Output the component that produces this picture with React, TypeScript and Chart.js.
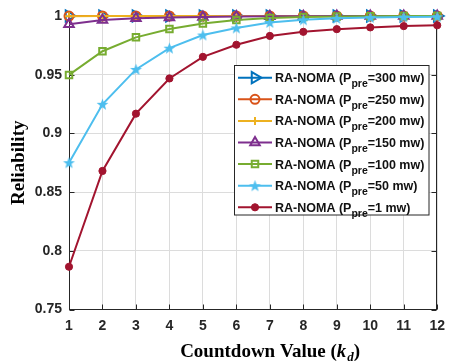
import React, { useEffect, useRef } from 'react';
import { Chart, registerables } from 'chart.js';
import { drawPoint } from 'chart.js/helpers';

Chart.register(...registerables);

// Countdown values on the horizontal axis
const countdown = ['1', '2', '3', '4', '5', '6', '7', '8', '9', '10', '11', '12'];

// Reliability for each pre-transmission power
const rel300 = [1, 1, 1, 1, 1, 1, 1, 1, 1, 1, 1, 1];
const rel250 = [0.9999, 1, 1, 1, 1, 1, 1, 1, 1, 1, 1, 1];
const rel200 = [0.9998, 0.9999, 0.9999, 1, 1, 1, 1, 1, 1, 1, 1, 1];
const rel150 = [0.993, 0.9966, 0.9981, 0.9988, 0.9992, 0.9995, 0.9997, 0.9998, 0.9999, 0.9999, 1, 1];
const rel100 = [0.9498, 0.970, 0.9818, 0.989, 0.9937, 0.9966, 0.9984, 0.9992, 0.9996, 0.9998, 0.9999, 0.9999];
const rel50 = [0.875, 0.9248, 0.9545, 0.9726, 0.9838, 0.9898, 0.9945, 0.9968, 0.998, 0.9987, 0.9991, 0.9994];
const rel1 = [0.7864, 0.868, 0.9168, 0.9468, 0.9652, 0.9755, 0.983, 0.9865, 0.9888, 0.9903, 0.9914, 0.9921];

const yTicks = [0.75, 0.8, 0.85, 0.9, 0.95, 1];
const powers = ['300', '250', '200', '150', '100', '50', '1'];

const AX = '#262626';

function makePentagram(color: string, r: number): HTMLCanvasElement {
  const size = Math.ceil(r * 2 + 2);
  const c = document.createElement('canvas');
  c.width = size;
  c.height = size;
  const g = c.getContext('2d')!;
  const cx = size / 2;
  const cy = size / 2 + 0.5;
  const inner = r * 0.42;
  g.beginPath();
  for (let i = 0; i < 10; i++) {
    const rad = i % 2 === 0 ? r : inner;
    const a = -Math.PI / 2 + (i * Math.PI) / 5;
    const px = cx + rad * Math.cos(a);
    const py = cy + rad * Math.sin(a);
    if (i === 0) g.moveTo(px, py);
    else g.lineTo(px, py);
  }
  g.closePath();
  g.fillStyle = color;
  g.fill();
  return c;
}

const seriesData = [rel300, rel250, rel200, rel150, rel100, rel50, rel1];

const seriesLook = [
  { color: '#0072BD', pointStyle: 'triangle' as any, rotation: 90, radius: 6.5, fill: 'rgba(0,0,0,0)', bw: 2 },
  { color: '#D95319', pointStyle: 'circle' as any, rotation: 0, radius: 4.5, fill: 'rgba(0,0,0,0)', bw: 2 },
  { color: '#EDB120', pointStyle: 'cross' as any, rotation: 0, radius: 4, fill: 'rgba(0,0,0,0)', bw: 2 },
  { color: '#7E2F8E', pointStyle: 'triangle' as any, rotation: 0, radius: 5.5, fill: 'rgba(0,0,0,0)', bw: 2 },
  { color: '#77AC30', pointStyle: 'rect' as any, rotation: 0, radius: 4.6, fill: 'rgba(0,0,0,0)', bw: 2 },
  { color: '#4DBEEE', pointStyle: null as any, rotation: 0, radius: 6, fill: '#4DBEEE', bw: 0 },
  { color: '#A2142F', pointStyle: 'circle' as any, rotation: 0, radius: 3.6, fill: '#A2142F', bw: 1 },
];

const framePlugin = {
  id: 'frame',
  beforeDatasetsDraw(chart: any) {
    const { ctx, chartArea: a, scales } = chart;
    ctx.save();
    ctx.strokeStyle = AX;
    ctx.lineWidth = 1;
    const L = Math.round(a.left) + 0.5;
    const R = Math.round(a.right) - 0.5;
    const T = Math.round(a.top) + 0.5;
    const B = Math.round(a.bottom) - 0.5;
    ctx.strokeRect(L, T, R - L, B - T);
    const tl = 5;
    ctx.beginPath();
    countdown.forEach((_, i) => {
      const x = Math.round(scales.x.getPixelForValue(i)) + 0.5;
      ctx.moveTo(x, B);
      ctx.lineTo(x, B - tl);
      ctx.moveTo(x, T);
      ctx.lineTo(x, T + tl);
    });
    yTicks.forEach((v) => {
      const y = Math.round(scales.y.getPixelForValue(v)) + 0.5;
      ctx.moveTo(L, y);
      ctx.lineTo(L + tl, y);
      ctx.moveTo(R, y);
      ctx.lineTo(R - tl, y);
    });
    ctx.stroke();
    ctx.restore();
  },
  afterDraw(chart: any) {
    const { ctx, chartArea: a } = chart;
    ctx.save();
    ctx.fillStyle = '#000';
    // y-axis title
    ctx.save();
    ctx.translate(24, (a.top + a.bottom) / 2);
    ctx.rotate(-Math.PI / 2);
    ctx.font = 'bold 19px "Liberation Serif"';
    ctx.textAlign = 'center';
    ctx.textBaseline = 'alphabetic';
    ctx.fillText('Reliability', 0, 0);
    ctx.restore();

    // x-axis title with italic k and subscript d
    const base = 356.5;
    const fMain = 'bold 19px "Liberation Serif"';
    const fIt = 'italic bold 19px "Liberation Serif"';
    const fSub = 'italic bold 13px "Liberation Serif"';
    const parts = [
      { t: 'Countdown Value (', f: fMain, dy: 0 },
      { t: 'k', f: fIt, dy: 0 },
      { t: 'd', f: fSub, dy: 4 },
      { t: ')', f: fMain, dy: 0 },
    ];
    let total = 0;
    parts.forEach((p) => {
      ctx.font = p.f;
      total += ctx.measureText(p.t).width + (p.t === 'k' ? 1 : 0);
    });
    let x = (a.left + a.right) / 2 + 17 - total / 2;
    ctx.textAlign = 'left';
    parts.forEach((p) => {
      ctx.font = p.f;
      ctx.fillText(p.t, x, base + p.dy);
      x += ctx.measureText(p.t).width + (p.t === 'k' ? 1 : 0);
    });

    // legend
    const lx = 234.5;
    const ly = 65.5;
    const lw = 194.5;
    const lh = 149.5;
    ctx.fillStyle = '#fff';
    ctx.fillRect(lx, ly, lw, lh);
    ctx.strokeStyle = AX;
    ctx.lineWidth = 1;
    ctx.strokeRect(lx, ly, lw, lh);
    const row0 = 77.7;
    const step = 21.6;
    powers.forEach((pw, i) => {
      const look = seriesLook[i];
      const ds = chart.data.datasets[i];
      const y = row0 + i * step;
      ctx.strokeStyle = look.color;
      ctx.lineWidth = 2;
      ctx.beginPath();
      ctx.moveTo(238, y);
      ctx.lineTo(272, y);
      ctx.stroke();
      ctx.fillStyle = look.fill;
      ctx.strokeStyle = look.color;
      ctx.lineWidth = look.bw;
      drawPoint(ctx, { pointStyle: ds.pointStyle, rotation: look.rotation, radius: look.radius, borderWidth: look.bw } as any, 255, y);
      ctx.fillStyle = '#111';
      ctx.font = 'bold 12.5px "Liberation Sans"';
      const t1 = 'RA-NOMA (P';
      ctx.fillText(t1, 275, y + 4.5);
      let tx = 275 + ctx.measureText(t1).width;
      ctx.font = 'bold 10.5px "Liberation Sans"';
      ctx.fillText('pre', tx, y + 9.5);
      tx += ctx.measureText('pre').width;
      ctx.font = 'bold 12.5px "Liberation Sans"';
      ctx.fillText('=' + pw + ' mw)', tx, y + 4.5);
    });
    ctx.restore();
  },
};

export default function App() {
  const ref = useRef<HTMLCanvasElement>(null);
  useEffect(() => {
    const star = makePentagram('#4DBEEE', 6.2);
    const datasets = seriesData.map((d, i) => {
      const look = seriesLook[i];
      return {
        label: 'RA-NOMA (Ppre=' + powers[i] + ' mw)',
        data: d,
        borderColor: look.color,
        backgroundColor: look.fill,
        borderWidth: 2,
        pointStyle: look.pointStyle ?? star,
        pointRotation: look.rotation,
        pointRadius: look.radius,
        pointBorderWidth: look.bw,
        pointBorderColor: look.color,
        pointBackgroundColor: look.fill,
        tension: 0,
        clip: false as any,
        order: -i,
      };
    });
    const chart = new Chart(ref.current!, {
      type: 'line',
      data: { labels: countdown, datasets },
      options: {
        animation: false,
        responsive: false,
        events: [],
        layout: { padding: { left: 0, top: 16, right: 11, bottom: 0 } },
        plugins: { legend: { display: false }, tooltip: { enabled: false } },
        scales: {
          x: {
            type: 'category',
            offset: false,
            grid: { color: '#dcdcdc', drawTicks: false, lineWidth: 1 },
            border: { display: false },
            ticks: {
              font: { family: 'Liberation Sans', size: 14, weight: 'bold' },
              color: AX,
              padding: 8,
              maxRotation: 0,
              autoSkip: false,
            },
            afterFit: (s: any) => {
              s.height = 54.5;
            },
          },
          y: {
            min: 0.75,
            max: 1,
            grid: { color: '#dcdcdc', drawTicks: false, lineWidth: 1 },
            border: { display: false },
            afterBuildTicks: (s: any) => {
              s.ticks = yTicks.map((v) => ({ value: v }));
            },
            ticks: {
              font: { family: 'Liberation Sans', size: 14, weight: 'bold' },
              color: AX,
              padding: 7,
              callback: (v: any) => String(v),
            },
            afterFit: (s: any) => {
              s.width = 69;
            },
          },
        },
      },
      plugins: [framePlugin],
    });
    return () => chart.destroy();
  }, []);
  return (
    <div style={{ position: 'fixed', left: 0, top: 0, width: 453, height: 364, background: '#fff' }}>
      <canvas ref={ref} width={453} height={364} style={{ display: 'block' }} />
    </div>
  );
}
